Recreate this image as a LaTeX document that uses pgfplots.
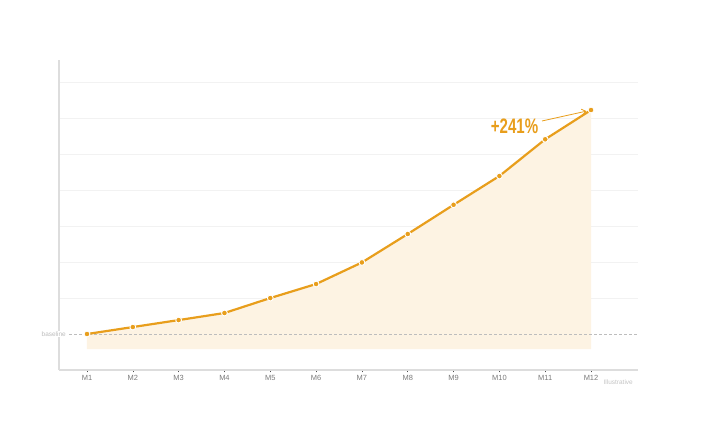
\documentclass[border=0pt]{standalone}
\usepackage{pgfplots}
\pgfplotsset{compat=1.18}
\usepackage{fontspec}
\setmainfont{Liberation Sans}
\usetikzlibrary{arrows.meta}
\definecolor{lineor}{HTML}{E89E1C}
\definecolor{fillor}{HTML}{FDF3E3}
\definecolor{gridc}{HTML}{F2F2F2}
\definecolor{axc}{HTML}{DDDDDD}
\definecolor{basec}{HTML}{BDBDBD}
\definecolor{tickc}{HTML}{7A7A7A}
\begin{document}
\begin{tikzpicture}
\useasboundingbox (0,0) rectangle (713bp,445bp);
\begin{axis}[
  at={(59bp,75bp)}, anchor=south west,
  scale only axis, width=579bp, height=310bp,
  xmin=0.389, xmax=13.025, ymin=61.3, ymax=394.8,
  axis x line*=bottom, axis y line*=left,
  axis line style={axc, line width=1.2bp},
  xtick={1,...,12},
  xticklabels={M1,M2,M3,M4,M5,M6,M7,M8,M9,M10,M11,M12},
  x tick label style={font=\fontsize{7.5}{8}\selectfont, text=tickc, yshift=1bp},
  x tick style={draw=black!70, line width=0.6bp},
  tick align=outside, major tick length=2.5bp,
  ytick={138.73,177.46,216.19,254.92,293.65,332.38,371.11},
  yticklabels={},
  y tick style={draw=none},
  ymajorgrids, grid style={gridc, line width=0.7bp},
  clip=false,
]
% shaded area
\addplot[fill=fillor, draw=none] coordinates {
  (1,83.86) (1,100) (2,107.5) (3,115) (4,122.6) (5,138.7) (6,153.8)
  (7,177) (8,207.6) (9,239) (10,270) (11,309.5) (12,341) (12,83.86)
} -- cycle;
% baseline
\addplot[basec, dashed, line width=0.6bp, dash pattern=on 3bp off 2bp] coordinates {(0.389,100) (13.025,100)};
\node[anchor=east, fill=white, inner sep=1bp, text=basec, font=\fontsize{6.5}{7}\selectfont] at (axis cs:0.389,100) [xshift=8bp] {baseline};
% main line
\addplot[lineor, line width=2.2bp, mark=*, mark size=2.9bp,
  mark options={fill=lineor, draw=white, line width=0.9bp}] coordinates {
  (1,100) (2,107.5) (3,115) (4,122.6) (5,138.7) (6,153.8)
  (7,177) (8,207.6) (9,239) (10,270) (11,309.5) (12,341)
};
% annotation
\draw[lineor, line width=0.8bp, -{Straight Barb[length=4bp, width=6bp]}] (axis cs:10.93,329.2) -- (axis cs:11.9,339.8);
\node[text=lineor, font=\fontsize{21}{22}\selectfont\bfseries, inner sep=0pt] at (axis cs:10.33,324) {\scalebox{0.72}[1]{+241\%}};
\node[anchor=north east, text=basec!90, font=\fontsize{6.5}{7}\selectfont, inner sep=0pt] at (axis cs:13.025,61.3) [yshift=-9.5bp, xshift=-5bp] {Illustrative};
\end{axis}
\end{tikzpicture}
\end{document}
